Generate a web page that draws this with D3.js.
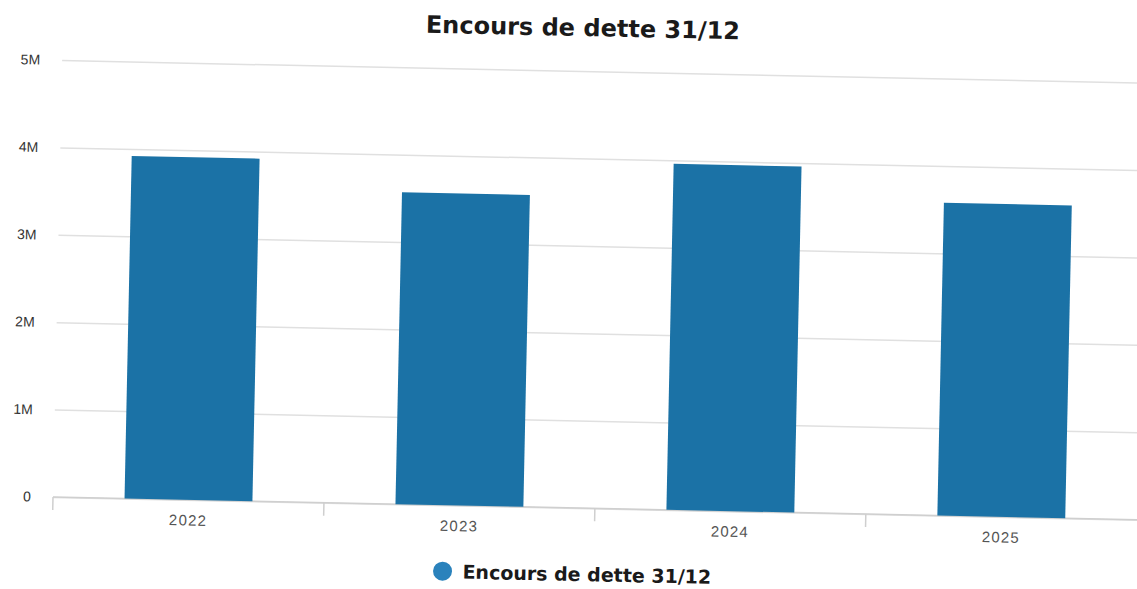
<!DOCTYPE html>
<html>
<head>
<meta charset="utf-8">
<script src="https://cdn.jsdelivr.net/npm/d3@7"></script>
<style>
  body { margin: 0; background: #fff; }
  svg { display: block; font-family: "DejaVu Sans", Verdana, sans-serif; }
  .axis-y text { fill: #333; font-size: 14px; }
  .axis-x text { fill: #555; font-size: 15px; letter-spacing: 1.2px; }
</style>
</head>
<body>
<div id="chart"></div>
<script>
var years = ["2022", "2023", "2024", "2025"];
var debt = [3.92e6, 3.57e6, 3.96e6, 3.58e6];
var yTicks = [0, 1e6, 2e6, 3e6, 4e6, 5e6];
var title = "Encours de dette 31/12";

var W = 1137, H = 589;
// plot area (the scan is tilted a little, so the whole drawing is turned by the same angle)
const plot = {left: 53, right: 1137, top: 60, bottom: 497},
      tilt = 1.2;

var data = years.map(function(k, i) { return {k: k, v: debt[i]}; });

var svg = d3.select("#chart")
  .append("svg")
  .attr("width", W)
  .attr("height", H);

var g = svg.append("g")
  .attr("transform", "rotate(" + tilt + "," + plot.left + "," + plot.bottom + ")");

var x = d3.scaleBand()
  .range([plot.left, plot.right])
  .padding(0)
  .domain(years);
var y = d3.scaleLinear()
  .range([plot.bottom, plot.top])
  .domain([0, 5e6]);

var yAxis = d3.axisLeft(y)
  .tickValues(yTicks)
  .tickSize(-(plot.right - plot.left + 15))
  .tickPadding(22)
  .tickFormat(function(d) { return d == 0 ? "0" : (d / 1e6) + "M"; });

g.append("g")
  .attr("class", "axis axis-y")
  .attr("transform", "translate(" + plot.left + ",0)")
  .call(yAxis)
  .call(function(s) {
    s.select(".domain").remove();
    s.selectAll("line").attr("stroke", "#e0e0e0").attr("stroke-width", 1.5);
  });

// x axis: labels centred on bands, ticks on band edges
var xAxis = d3.axisBottom(x).tickSize(0).tickPadding(15);
g.append("g")
  .attr("class", "axis axis-x")
  .attr("transform", "translate(0," + plot.bottom + ")")
  .call(xAxis)
  .call(function(s) { s.select(".domain").remove(); });

g.append("line")
  .attr("x1", plot.left).attr("x2", plot.right + 15)
  .attr("y1", plot.bottom).attr("y2", plot.bottom)
  .attr("stroke", "#cfcfcf").attr("stroke-width", 1.5);

g.selectAll(".xtick").data(years)
  .enter().append("line")
  .attr("class", "xtick")
  .attr("x1", function(d) { return x(d); })
  .attr("x2", function(d) { return x(d); })
  .attr("y1", plot.bottom)
  .attr("y2", plot.bottom + 13)
  .attr("stroke", "#cfcfcf")
  .attr("stroke-width", 1.5);

var inset = x.bandwidth() * 0.264;
g.selectAll(".bar").data(data)
  .enter().append("rect")
  .attr("class", "bar")
  .style("fill", "#1b72a6")
  .attr("x", function(d) { return x(d.k) + inset; })
  .attr("width", x.bandwidth() - 2 * inset)
  .attr("y", function(d) { return y(d.v); })
  .attr("height", function(d) { return y(0) - y(d.v); });

g.append("text")
  .attr("x", 573)
  .attr("y", 25)
  .attr("text-anchor", "middle")
  .style("font-size", "24px")
  .style("font-weight", "bold")
  .style("fill", "#1a1a1a")
  .text(title);

// legend
var legend = g.append("g").attr("transform", "translate(444,563)");
legend.append("circle")
  .attr("r", 9.5)
  .style("fill", "#2a82bc");
legend.append("text")
  .attr("x", 20)
  .attr("y", 7)
  .style("font-size", "19px")
  .style("font-weight", "bold")
  .style("fill", "#1a1a1a")
  .text(title);
</script>
</body>
</html>
